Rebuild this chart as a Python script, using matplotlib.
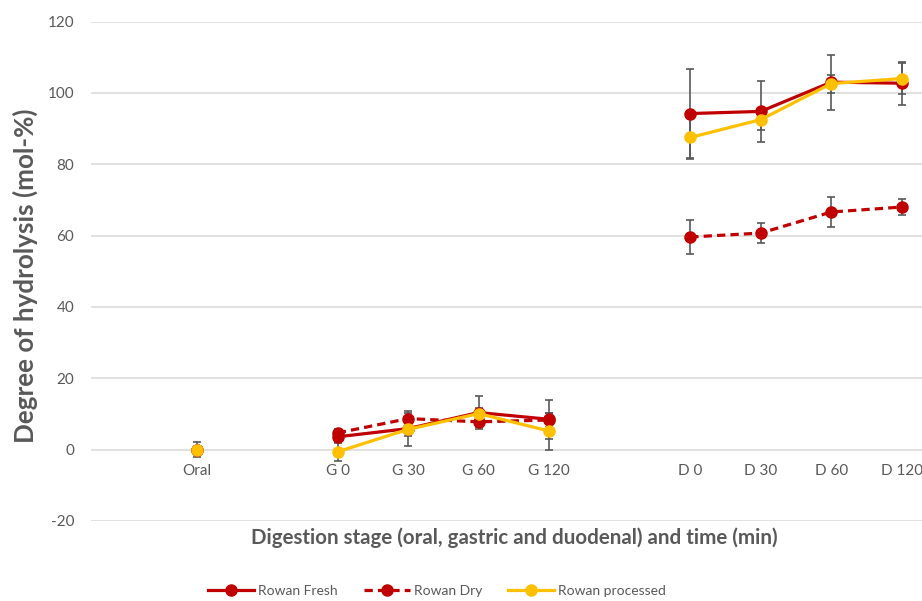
import numpy as np
import matplotlib
matplotlib.use('Agg')
import matplotlib.pyplot as plt

nan = np.nan

# Categories (blank slots give the gaps between stages)
categories = ['', 'Oral', '', 'G 0', 'G 30', 'G 60', 'G 120', '', 'D 0', 'D 30', 'D 60', 'D 120']

fresh = [nan, 0, nan, 3.6, 5.9, 10.4, 8.5, nan, 94.2, 94.8, 103.0, 102.7]
fresh_err = [nan, 0, nan, 1.5, 2.0, 4.5, 5.5, nan, 12.5, 8.5, 7.7, 6.0]

dry = [nan, 0, nan, 4.7, 8.7, 7.8, 8.3, nan, 59.6, 60.7, 66.6, 68.0]
dry_err = [nan, 0, nan, 1.0, 2.2, 1.5, 2.0, nan, 4.9, 2.8, 4.1, 2.2]

processed = [nan, 0, nan, -0.6, 5.7, 10.1, 5.2, nan, 87.5, 92.5, 102.6, 104.0]
processed_err = [nan, 2.2, nan, 2.6, 4.7, 1.5, 5.2, nan, 5.9, 3.0, 2.5, 4.3]

y_ticks = [-20, 0, 20, 40, 60, 80, 100, 120]

plt.rcParams['font.family'] = ['Lato', 'DejaVu Sans']
plt.rcParams['axes.unicode_minus'] = False

RED = '#C00000'
YELLOW = '#FFC000'
GREY = '#595959'

fig = plt.figure(figsize=(9.22, 6.01), dpi=100)
ax = fig.add_axes([91 / 922, 1 - 521 / 601, 1 - 91 / 922, (521 - 21.5) / 601])

x = np.arange(len(categories))

series = [
    ('Rowan Fresh', fresh, fresh_err, RED, '-'),
    ('Rowan Dry', dry, dry_err, RED, (0, (2.6, 1.6))),
    ('Rowan processed', processed, processed_err, YELLOW, '-'),
]

for i, (name, vals, errs, col, ls) in enumerate(series):
    ax.errorbar(x, vals, yerr=errs, fmt='none', ecolor=GREY, elinewidth=1.2,
                capsize=3.2, capthick=1.2, zorder=2 + i * 0.1)
    ax.plot(x, vals, color=col, linestyle=ls, linewidth=2.3, marker='o',
            markersize=8, label=name, zorder=3 + i * 0.1)

# x range: the original chart is cropped on the right
ax.set_xlim(-0.5, 11.5 - 15 / 70.5)
ax.set_ylim(-20, 120)
ax.set_yticks(y_ticks)
ax.set_xticks([])

ax.grid(axis='y', color='#d9d9d9', linewidth=1.1)
ax.set_axisbelow(True)
for s in ax.spines.values():
    s.set_visible(False)
ax.tick_params(axis='both', length=0, colors=GREY, labelsize=11)
ax.tick_params(axis='y', pad=12)

# category labels sit just under the zero line, as in the original
for xi, c in zip(x, categories):
    if c:
        ax.text(xi, -4.0, c, ha='center', va='top', fontsize=11, color=GREY)

fig.text(25 / 922, 1 - 276 / 601, 'Degree of hydrolysis (mol-%)', rotation=90,
         ha='center', va='center', fontsize=18.7, fontweight='bold', color=GREY)
fig.text(514 / 922, 1 - 538 / 601, 'Digestion stage (oral, gastric and duodenal) and time (min)',
         ha='center', va='center', fontsize=14.8, fontweight='bold', color=GREY)

fig.legend(loc='center', bbox_to_anchor=(437 / 922, 1 - 591 / 601), ncol=3,
           frameon=False, fontsize=10, handlelength=3.3, columnspacing=1.9,
           labelcolor=GREY, handletextpad=0.3)

fig.savefig('out.png', dpi=100)
